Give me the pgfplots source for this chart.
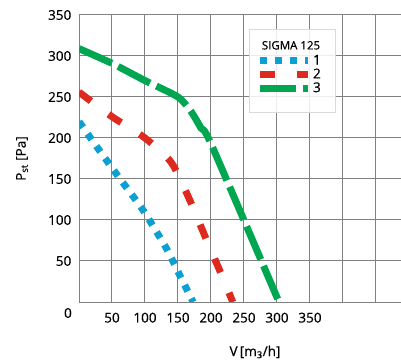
\documentclass[border=0pt]{standalone}
\usepackage{fontspec}
\setmainfont{Open Sans}[FakeBold=0.5]
\usepackage{pgfplots}
\pgfplotsset{compat=1.18}
\definecolor{cblue}{RGB}{10,160,210}
\definecolor{cred}{RGB}{222,42,30}
\definecolor{cgreen}{RGB}{0,166,80}
\definecolor{cgrid}{RGB}{128,128,128}
\begin{document}
\fontsize{13.5bp}{15bp}\selectfont
\begin{tikzpicture}
\begin{axis}[
  at={(79bp,62bp)}, anchor=south west,
  scale only axis, width=322bp, height=287bp,
  xmin=0, xmax=487.9, ymin=0, ymax=350,
  clip mode=individual,
  xtick={0,50,...,450}, xticklabels={,50,100,150,200,250,300,350,,},
  ytick={0,50,...,350}, yticklabels={,50,100,150,200,250,300,350},
  major tick length=0pt,
  grid=major,
  major grid style={cgrid, line width=1bp},
  axis line style={cgrid, line width=1bp},
  /pgf/number format/assume math mode=true,
  xticklabel style={yshift=-6bp},
  yticklabel style={xshift=-3bp},
  xlabel={V\,[m\textsubscript{3}/h]},
  ylabel={P\textsubscript{st} [Pa]},
  xlabel style={at={(axis description cs:0.5466,-0.1742)}, anchor=center},
  ylabel style={at={(axis description cs:-0.177,0.5)}, anchor=center},
  legend style={at={(axis cs:268,304)}, anchor=north west, draw=none, fill=none,
    font=\fontsize{13.5bp}{15bp}\selectfont, row sep=-2bp, inner sep=0pt},
  legend image code/.code={\draw[#1] (0bp,0bp) -- (48bp,0bp);},
  legend cell align=left,
]
\fill[white, opacity=0.85] (axis cs:257.6,332.9) rectangle (axis cs:389.4,230.5);
\draw[gray!30, line width=1bp] (axis cs:257.6,332.9) rectangle (axis cs:389.4,230.5);
\node[font=\fontsize{11.5bp}{13bp}\selectfont] at (axis cs:321.2,313) {SIGMA 125};
\node[anchor=east, inner sep=0pt] at (axis cs:0,0) [xshift=-7bp, yshift=-11bp] {0};

\addplot[cblue, line width=7bp, dash pattern=on 7bp off 8bp, smooth, tension=0.4] coordinates {
(0,220) (29,187) (56,157) (97,112) (132,66) (153,32) (173,0)};
\addlegendentry{1}
\addplot[cred, line width=7bp, dash pattern=on 15bp off 22bp, smooth, tension=0.4] coordinates {
(0,256) (50,226) (100,200) (140,170) (168,124) (191,80) (215,35) (233,0)};
\addlegendentry{2}
\addplot[cgreen, line width=7bp, dash pattern=on 36bp off 7bp, smooth, tension=0.4] coordinates {
(0,309) (50,291) (100,270) (150,250) (170,232) (185,212) (200,193) (303,0)};
\addlegendentry{3}
\end{axis}
\pgfresetboundingbox
\path[use as bounding box] (0,0) rectangle (401bp,364bp);
\end{tikzpicture}
\end{document}
